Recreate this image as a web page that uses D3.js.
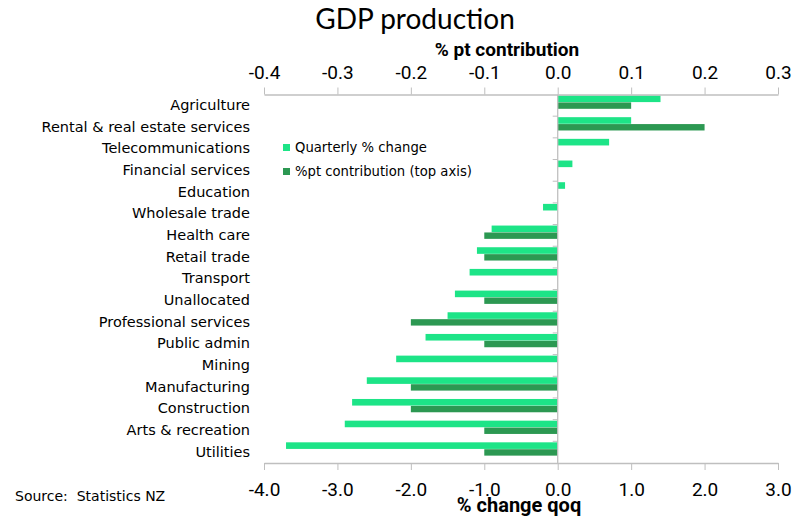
<!DOCTYPE html>
<html>
<head>
<meta charset="utf-8">
<script src="https://cdn.jsdelivr.net/npm/d3@7"></script>
<style>
body{margin:0;background:#fff;}
svg{display:block;}
</style>
</head>
<body>
<svg id="chart" width="800" height="516"></svg>
<script>
const categories = ["Agriculture","Rental & real estate services","Telecommunications","Financial services","Education","Wholesale trade","Health care","Retail trade","Transport","Unallocated","Professional services","Public admin","Mining","Manufacturing","Construction","Arts & recreation","Utilities"];
const quarterlyChange = [1.4,1.0,0.7,0.2,0.1,-0.2,-0.9,-1.1,-1.2,-1.4,-1.5,-1.8,-2.2,-2.6,-2.8,-2.9,-3.7];
const ptContribution = [0.1,0.2,null,null,null,null,-0.1,-0.1,null,-0.1,-0.2,-0.1,null,-0.2,-0.2,-0.1,-0.1];
const bottomTicks = [-4,-3,-2,-1,0,1,2,3];
const topTicks = [-0.4,-0.3,-0.2,-0.1,0,0.1,0.2,0.3];
const seriesNames = ["Quarterly % change","%pt contribution (top axis)"];

const colLight = "#1de487";
const colDark = "#2c9852";
const axisCol = "#bfbfbf";
const font = "'DejaVu Sans', sans-serif";
const fmt = v => d3.format(".1f")(v).replace("\u2212","-");

const svg = d3.select("#chart");
const x = d3.scaleLinear().domain([-4,3]).range([264,778]);
const x2 = d3.scaleLinear().domain([-0.4,0.3]).range([264,778]);
const y = d3.scaleBand().domain(categories).range([94.5,463]).paddingInner(0);

// title
svg.append("text").attr("x",415).attr("y",29).attr("text-anchor","middle")
  .style("font-family","Lato, sans-serif").style("font-size","28px").attr("fill","#000").text("GDP production");

// bars
svg.append("g").selectAll("rect").data(categories).join("rect")
  .attr("x",(d,i)=>Math.min(x(0),x(quarterlyChange[i])))
  .attr("width",(d,i)=>Math.abs(x(quarterlyChange[i])-x(0)))
  .attr("y",d=>y(d)+1).attr("height",6.6).attr("fill",colLight);

svg.append("g").selectAll("rect").data(categories.filter((d,i)=>ptContribution[i]!==null)).join("rect")
  .attr("x",d=>{const v=ptContribution[categories.indexOf(d)];return Math.min(x2(0),x2(v));})
  .attr("width",d=>{const v=ptContribution[categories.indexOf(d)];return Math.abs(x2(v)-x2(0));})
  .attr("y",d=>y(d)+7.9).attr("height",6.4).attr("fill",colDark);

// zero line with category ticks
const zg = svg.append("g");
zg.append("line").attr("x1",x(0)).attr("x2",x(0)).attr("y1",94.5).attr("y2",463).attr("stroke",axisCol).attr("stroke-width",1.3);
zg.selectAll("line.t").data(categories.slice(1)).join("line").attr("class","t")
  .attr("x1",x(0)-5).attr("x2",x(0)).attr("y1",d=>y(d)).attr("y2",d=>y(d)).attr("stroke",axisCol).attr("stroke-width",1);

// category labels
svg.append("g").selectAll("text").data(categories).join("text")
  .attr("x",250).attr("y",d=>y(d)+y.bandwidth()/2-0.5).attr("dy","0.35em").attr("text-anchor","end")
  .style("font-family",font).style("font-size","14.5px").attr("fill","#000").text(d=>d);

// bottom axis
const bAxis = svg.append("g").attr("transform","translate(0,463)")
  .call(d3.axisBottom(x).tickValues(bottomTicks).tickFormat(fmt).tickSize(7).tickSizeOuter(0));
bAxis.select(".domain").attr("stroke",axisCol).attr("stroke-width",1.3);
bAxis.selectAll(".tick line").attr("stroke",axisCol);
bAxis.selectAll(".tick text").attr("fill","#000").attr("y",20)
  .style("font-family","Roboto, sans-serif").style("font-size","19px");

// top axis
const tAxis = svg.append("g").attr("transform","translate(0,94.5)")
  .call(d3.axisTop(x2).tickValues(topTicks).tickFormat(fmt).tickSize(7).tickSizeOuter(0));
tAxis.select(".domain").attr("stroke",axisCol).attr("stroke-width",1.3);
tAxis.selectAll(".tick line").attr("stroke",axisCol);
tAxis.selectAll(".tick text").attr("fill","#000").attr("y",-16)
  .style("font-family","Roboto, sans-serif").style("font-size","19px");

// axis titles
svg.append("text").attr("x",507).attr("y",56).attr("text-anchor","middle")
  .style("font-family","Roboto, sans-serif").style("font-weight","bold").style("font-size","19px").attr("fill","#000").text("% pt contribution");
svg.append("text").attr("x",519).attr("y",512).attr("text-anchor","middle")
  .style("font-family","Roboto, sans-serif").style("font-weight","bold").style("font-size","20px").attr("fill","#000").text("% change qoq");

// source
svg.append("text").attr("x",15).attr("y",501).attr("xml:space","preserve").style("white-space","pre")
  .style("font-family",font).style("font-size","14px").attr("fill","#000").text("Source:  Statistics NZ");

// legend
const lg = svg.append("g");
[colLight,colDark].forEach((c,i)=>{
  lg.append("rect").attr("x",283).attr("y",144+i*24).attr("width",7).attr("height",7).attr("fill",c);
  lg.append("text").attr("x",295).attr("y",147.5+i*24).attr("dy","0.35em")
    .style("font-family",font).style("font-size","13.2px").attr("fill","#000").text(seriesNames[i]);
});
</script>
</body>
</html>
